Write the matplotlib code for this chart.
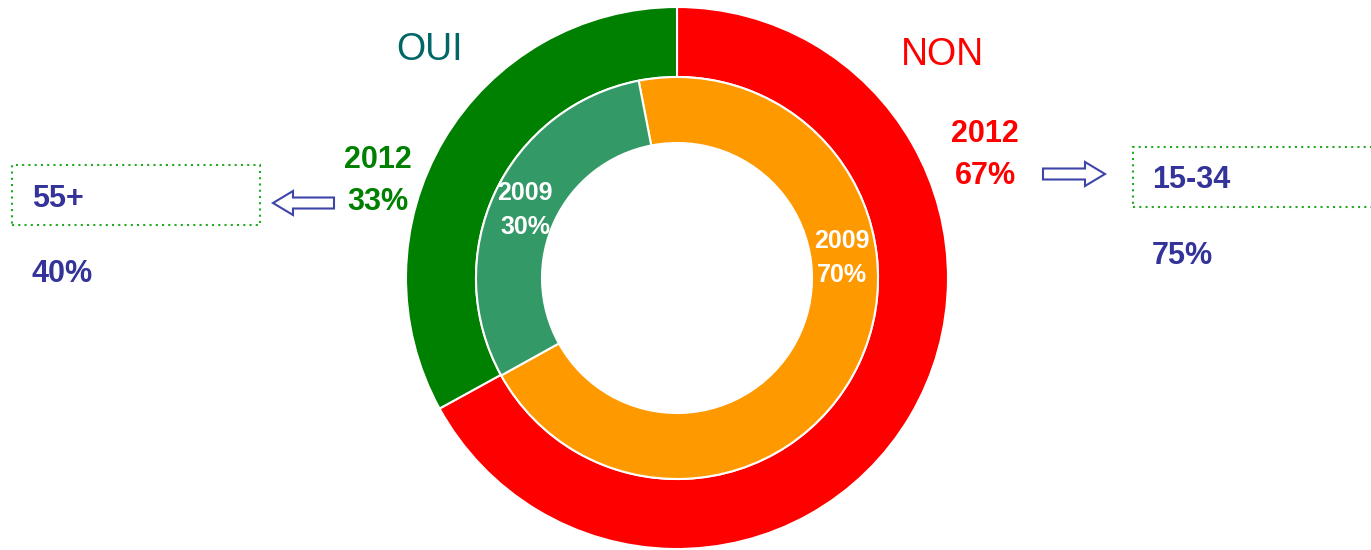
import matplotlib.pyplot as plt
import matplotlib.patches as mpatches

plt.rcParams['font.family'] = ['Liberation Sans', 'DejaVu Sans']

# data
outer_labels = ["NON", "OUI"]
outer_values = [67, 33]          # 2012
outer_colors = ["#ff0000", "#008000"]
inner_values = [70, 30]          # 2009
inner_colors = ["#ff9900", "#339966"]
left_group, left_pct = "55+", "40%"
right_group, right_pct = "15-34", "75%"

W, H = 1371, 550
fig = plt.figure(figsize=(W / 100, H / 100), dpi=100)
ax = fig.add_axes([0, 0, 1, 1])

cx, cy = 677, H - 278
r_out, r_mid, r_in = 271, 201, 135

ax.pie(outer_values, colors=outer_colors, startangle=90, counterclock=False,
       radius=r_out, center=(cx, cy), frame=True,
       wedgeprops=dict(width=r_out - r_mid, edgecolor="white", linewidth=1.5))
ax.pie(inner_values, colors=inner_colors, startangle=101, counterclock=False,
       radius=r_mid, center=(cx, cy), frame=True,
       wedgeprops=dict(width=r_mid - r_in, edgecolor="white", linewidth=1.5))
ax.set_xlim(0, W)
ax.set_ylim(0, H)
ax.set_aspect("equal")
ax.axis("off")

ax.text(430, H - 50, outer_labels[1], color="#006666", fontsize=27, ha="center", va="center")
ax.text(942, H - 55, outer_labels[0], color="#ff0000", fontsize=27, ha="center", va="center")

ax.text(378, H - 181, f"2012\n{outer_values[1]}%", color="#008000", fontsize=22,
        fontweight="bold", ha="center", va="center", linespacing=1.5)
ax.text(985, H - 155, f"2012\n{outer_values[0]}%", color="#ff0000", fontsize=22,
        fontweight="bold", ha="center", va="center", linespacing=1.5)
ax.text(525, H - 210, f"2009\n{inner_values[1]}%", color="white", fontsize=18,
        fontweight="bold", ha="center", va="center", linespacing=1.55)
ax.text(842, H - 258, f"2009\n{inner_values[0]}%", color="white", fontsize=18,
        fontweight="bold", ha="center", va="center", linespacing=1.55)

blue = "#333399"
box_kw = dict(fill=False, edgecolor="#22aa22", linestyle=(0, (1, 2)), linewidth=1.5)
ax.add_patch(mpatches.Rectangle((12, H - 225), 248, 60, **box_kw))
ax.add_patch(mpatches.Rectangle((1133, H - 207), 260, 60, clip_on=True, **box_kw))

ax.text(32, H - 199, left_group, color=blue, fontsize=22, fontweight="bold", va="center")
ax.text(32, H - 274, left_pct, color=blue, fontsize=22, fontweight="bold", va="center")
ax.text(1152, H - 180, right_group, color=blue, fontsize=22, fontweight="bold", va="center")
ax.text(1152, H - 256, right_pct, color=blue, fontsize=22, fontweight="bold", va="center")

arrow_kw = dict(width=11, head_width=24, head_length=20, length_includes_head=True,
                facecolor="white", edgecolor="#3d45a8", linewidth=1.5)
ax.add_patch(mpatches.FancyArrow(334, H - 203, -61, 0, **arrow_kw))
ax.add_patch(mpatches.FancyArrow(1043, H - 174, 62, 0, **arrow_kw))

fig.savefig("out.png", dpi=100)
